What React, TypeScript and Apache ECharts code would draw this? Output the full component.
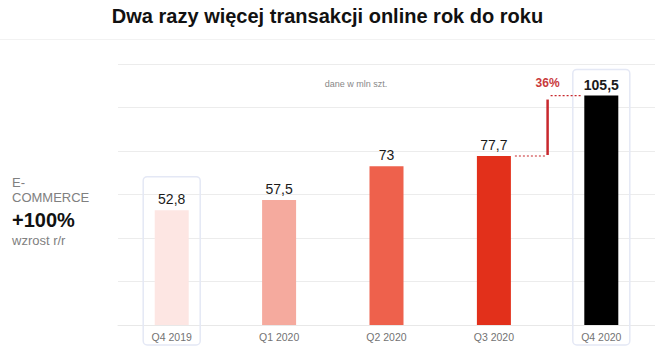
import React, { useEffect, useRef } from "react";
import * as echarts from "echarts";

const categories = ["Q4 2019", "Q1 2020", "Q2 2020", "Q3 2020", "Q4 2020"];
const values = [52.8, 57.5, 73, 77.7, 105.5];
const barColors = ["#fde6e3", "#f5aa9e", "#ee614c", "#e2301b", "#000000"];
const boldLabel = [false, false, false, false, true];
// highlight frames: [category index, top value]
const highlights = [
  [0, 68.2],
  [4, 117.5],
];
// growth annotation: [from index, to index]
const growth = [[3, 4]];
const yTicks = [0, 20, 40, 60, 80, 100, 120];

const fmt = (v: number) => String(v).replace(".", ",");

export default function App() {
  const ref = useRef<HTMLDivElement>(null);
  useEffect(() => {
    document.body.style.margin = "0";
    const chart = echarts.init(ref.current!, null, { renderer: "svg" });
    const font = "Liberation Sans, Arial, sans-serif";
    const option: any = {
      animation: false,
      textStyle: { fontFamily: font },
      grid: { left: 118, width: 542, top: 64, bottom: 30 },
      xAxis: {
        type: "category",
        data: categories,
        axisLine: { show: true, lineStyle: { color: "#e8e8e8" } },
        axisTick: { show: false },
        axisLabel: { color: "#737373", fontSize: 10.5, margin: 6, fontFamily: font },
      },
      yAxis: {
        type: "value",
        min: yTicks[0],
        max: yTicks[yTicks.length - 1],
        interval: 20,
        axisLabel: { show: false },
        axisLine: { show: false },
        axisTick: { show: false },
        splitLine: { lineStyle: { color: "#ececec" } },
      },
      graphic: [
        {
          type: "text",
          left: "center",
          top: 6,
          style: {
            text: "Dwa razy więcej transakcji online rok do roku",
            font: `bold 20px ${font}`,
            fill: "#111",
          },
        },
        {
          type: "line",
          shape: { x1: 0, y1: 39.5, x2: 655, y2: 39.5 },
          style: { stroke: "#f2f2f2", lineWidth: 1 },
        },
        {
          type: "text",
          x: 356,
          y: 84,
          style: {
            text: "dane w mln szt.",
            font: `9px ${font}`,
            fill: "#888",
            align: "center",
            verticalAlign: "middle",
          },
        },
        {
          type: "text",
          x: 12,
          y: 182,
          style: { text: "E-", font: `13px ${font}`, fill: "#808080", verticalAlign: "middle" },
        },
        {
          type: "text",
          x: 12,
          y: 197,
          style: { text: "COMMERCE", font: `13px ${font}`, fill: "#808080", verticalAlign: "middle" },
        },
        {
          type: "text",
          x: 12,
          y: 220,
          style: { text: "+100%", font: `bold 20px ${font}`, fill: "#111", verticalAlign: "middle" },
        },
        {
          type: "text",
          x: 12,
          y: 240,
          style: { text: "wzrost r/r", font: `13px ${font}`, fill: "#808080", verticalAlign: "middle" },
        },
      ],
      series: [
        {
          type: "custom",
          z: 1,
          data: highlights,
          renderItem: (params: any, api: any) => {
            const idx = api.value(0);
            const top = api.coord([idx, api.value(1)]);
            const base = api.coord([idx, 0]);
            const w = 57;
            return {
              type: "rect",
              shape: { x: top[0] - w / 2, y: top[1], width: w, height: base[1] - top[1] + 20, r: 4 },
              style: { fill: "none", stroke: "#e4e8f5", lineWidth: 1.5 },
            };
          },
        },
        {
          type: "bar",
          z: 2,
          barWidth: 34,
          data: values.map((v, i) => ({
            value: v,
            itemStyle: { color: barColors[i] },
            label: {
              show: true,
              position: "top",
              distance: 4,
              color: "#1a1a1a",
              fontSize: 14,
              fontWeight: boldLabel[i] ? "bold" : "normal",
              fontFamily: font,
              formatter: () => fmt(v),
            },
          })),
        },
        {
          type: "custom",
          z: 3,
          data: growth,
          renderItem: (params: any, api: any) => {
            const a = api.value(0);
            const b = api.value(1);
            const va = values[a];
            const vb = values[b];
            const p1 = api.coord([a, va]);
            const p2 = api.coord([b, vb]);
            const half = 17;
            const mx = (p1[0] + p2[0]) / 2;
            const pct = Math.round((vb / va - 1) * 100);
            const red = "#c8282d";
            return {
              type: "group",
              children: [
                {
                  type: "line",
                  shape: { x1: p1[0] + half + 4, y1: p1[1], x2: mx - 1, y2: p1[1] },
                  style: { stroke: red, lineWidth: 1.2, lineDash: [2, 2] },
                },
                {
                  type: "line",
                  shape: { x1: mx, y1: p1[1] - 1, x2: mx, y2: p2[1] + 4 },
                  style: { stroke: red, lineWidth: 2.5 },
                },
                {
                  type: "line",
                  shape: { x1: mx + 3, y1: p2[1], x2: p2[0] - half - 3, y2: p2[1] },
                  style: { stroke: red, lineWidth: 1.2, lineDash: [2, 2] },
                },
                {
                  type: "text",
                  x: mx,
                  y: p2[1] - 13,
                  style: {
                    text: pct + "%",
                    font: `bold 12px ${font}`,
                    fill: "#c93a3c",
                    align: "center",
                    verticalAlign: "middle",
                  },
                },
              ],
            };
          },
        },
      ],
    };
    chart.setOption(option);
    return () => chart.dispose();
  }, []);
  return <div ref={ref} style={{ width: 655, height: 355 }} />;
}
